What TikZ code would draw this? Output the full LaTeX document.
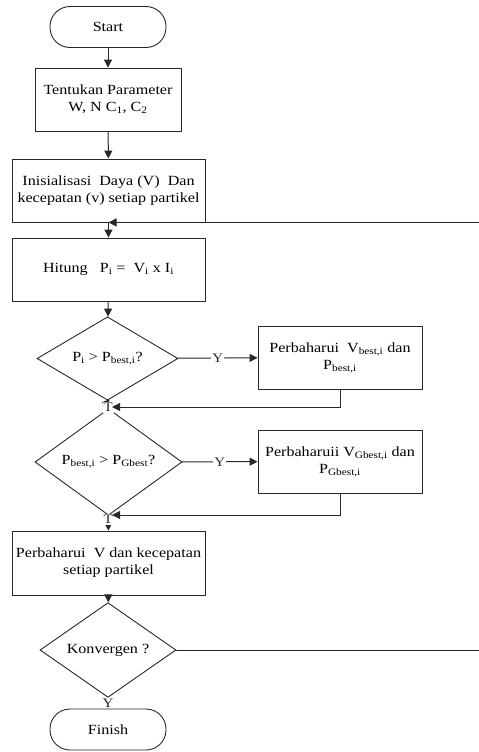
\documentclass[tikz,border=0pt]{standalone}
\usepackage{fontspec}
\setmainfont[FakeStretch=1.15]{Liberation Serif}
\usepackage{tikz}
\usetikzlibrary{arrows.meta,shapes.geometric}
\definecolor{ink}{RGB}{40,40,40}
\tikzset{
  box/.style={draw=ink, line width=0.9pt, inner sep=2pt, align=center,
              font=\fontsize{14}{17}\selectfont},
  term/.style={box, rounded corners=20pt, minimum width=116pt, minimum height=41pt},
  decision/.style={box, diamond, inner sep=0pt},
  flow/.style={-{Triangle[length=8pt,width=8pt]}, ink, line width=1pt},
  link/.style={ink, line width=1pt},
  lbl/.style={font=\fontsize{13}{14}\selectfont, fill=white, inner sep=1pt},
}
\begin{document}
\begin{tikzpicture}[x=1pt,y=-1pt]
    \useasboundingbox (0,0) rectangle (479,752);
    % main column
    \node[term] (start) at (108,27) {Start};
    \node[box, minimum width=146pt, minimum height=63pt] (param) at (108,99.5)
      {Tentukan Parameter\\W, N C\textsubscript{1}, C\textsubscript{2}};
    \node[box, minimum width=193pt, minimum height=63pt] (init) at (108.5,190.5)
      {Inisialisasi \ Daya (V) \ Dan\\kecepatan (v) setiap partikel};
    \node[box, minimum width=193pt, minimum height=63pt] (hit) at (108.5,269.5)
      {Hitung \ \ P\textsubscript{i} = \ V\textsubscript{i} x I\textsubscript{i}};
    \node[decision, minimum width=141pt, minimum height=77pt] (pbest) at (107.5,358.5)
      {P\textsubscript{i} > P\textsubscript{best,i}?};
    \node[decision, minimum width=147pt, minimum height=80pt] (gbest) at (108.5,462)
      {P\textsubscript{best,i} > P\textsubscript{Gbest}?};
    \node[box, minimum width=193pt, minimum height=64pt] (upd) at (108.5,563)
      {Perbaharui \ V dan kecepatan\\setiap partikel};
    \node[decision, minimum width=136pt, minimum height=74pt] (konv) at (108,650)
      {Konvergen ?};
    \node[term] (finish) at (108,729.5) {Finish};
    % right column
    \node[box, minimum width=164pt, minimum height=63pt] (newp) at (340,357.5)
      {Perbaharui \ V\textsubscript{best,i} dan\\P\textsubscript{best,i}};
    \node[box, minimum width=164pt, minimum height=63pt] (newg) at (340,461.5)
      {Perbaharuii V\textsubscript{Gbest,i} dan\\P\textsubscript{Gbest,i}};
    % junctions
    \coordinate (j1) at (108,407);
    \coordinate (j2) at (108,515);
    \coordinate (back) at (484,650);
    \draw[flow] (start) -- (param);
    \draw[flow] (param) -- (init);
    \draw[flow] (init.south) -- (hit);
    \draw[flow] (hit) -- (pbest);
    \draw[flow] (pbest) -- node[lbl] {Y} (newp);
    \draw[link] (pbest.south) -- (j1);
    \draw[flow] (j1) -- node[lbl, pos=0.45] {T} (gbest.north);
    \draw[flow, shorten >=4pt] (newp.south) |- (j1);
    \draw[flow] (gbest) -- node[lbl] {Y} (newg);
    \draw[link] (gbest.south) -- (j2);
    \draw[flow] (j2) -- node[lbl, pos=0.28] {T} (upd.north);
    \draw[flow, shorten >=4pt] (newg.south) |- (j2);
    \draw[flow] (upd) -- (konv);
    \draw[flow] (konv) -- node[lbl] {Y} (finish);
    \draw[flow] (konv.east) -- (back) |- (init.south);
\end{tikzpicture}
\end{document}
